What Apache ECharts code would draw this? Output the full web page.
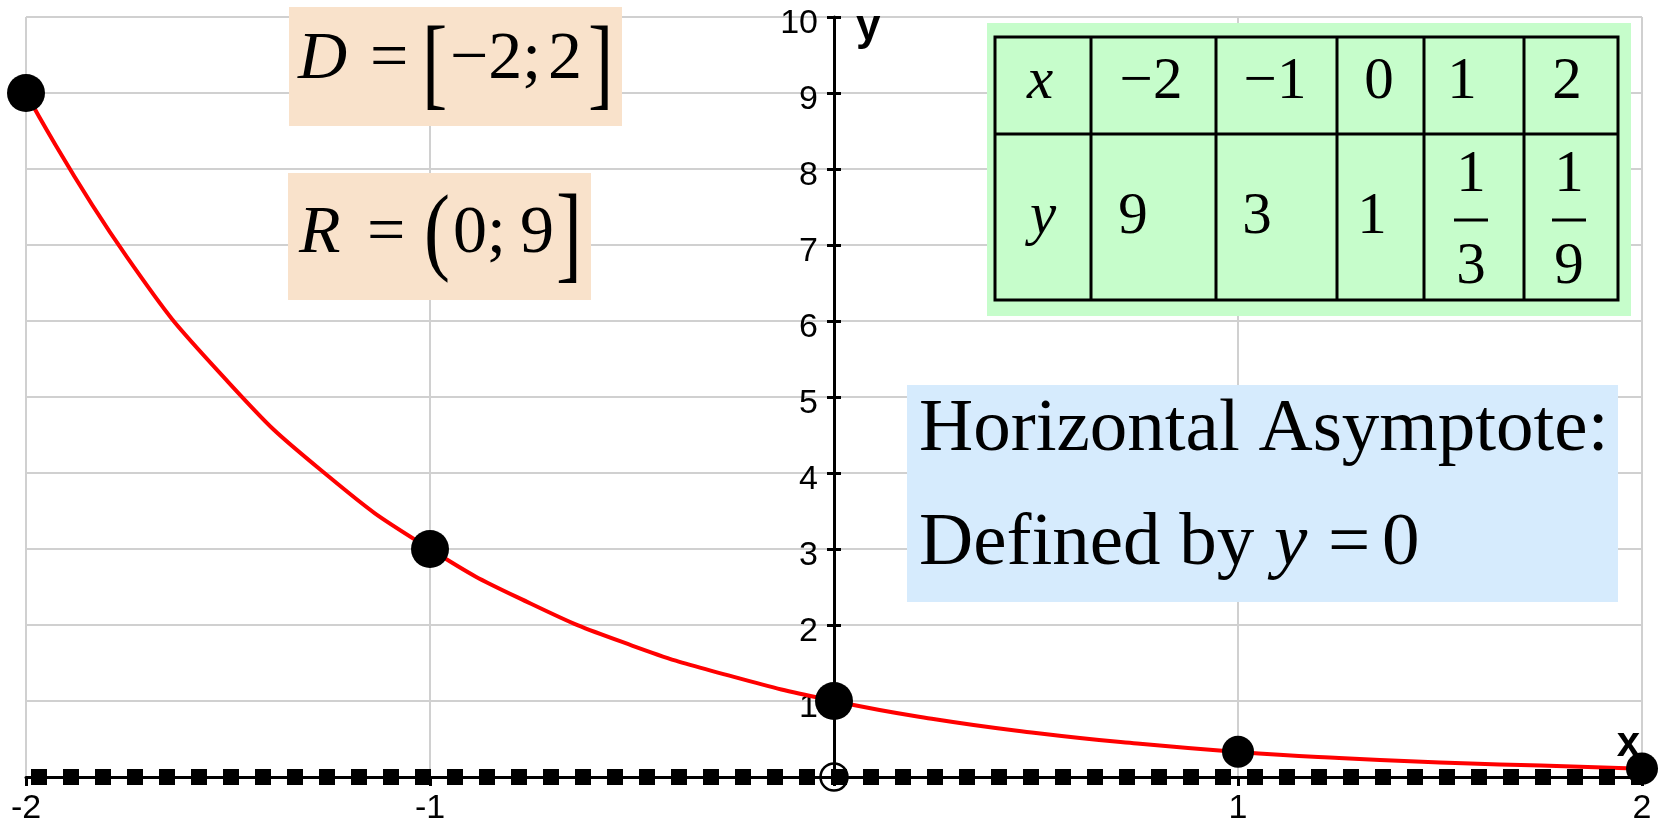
<!DOCTYPE html>
<html>
<head>
<meta charset="utf-8">
<title>y = (1/3)^x</title>
<script src="https://cdn.jsdelivr.net/npm/echarts@6/dist/echarts.min.js"></script>
<style>
  html, body { margin: 0; padding: 0; background: #fff; }
  #chart { width: 1664px; height: 825px; }
</style>
</head>
<body>
<div id="chart"></div>
<script>
// red curve, values
const curveX = [-2, -1.75, -1.5, -1.25, -1, -0.75, -0.5, -0.25, 0, 0.25, 0.5, 0.75, 1, 1.25, 1.5, 1.75, 2]
const curveY = [9, 6.84, 5.2, 3.95, 3, 2.28, 1.73, 1.32, 1, 0.76, 0.58, 0.44, 0.33, 0.25, 0.19, 0.15, 0.11]
// black dots
const pointX = [-2, -1, 0, 1, 2]
const pointY = [9, 3, 1, 0.333, 0.111]
// horizontal asymptote y = 0
const asymptoteX = [-2, 2]
const asymptoteY = [0, 0]
// value table
const tableX = ['−2', '−1', '0', '1', '2']
const tableY = ['9', '3', '1', '1/3', '1/9']
// boxes
const domainText = ['D', '=', '[', '−2;', '2', ']']
const rangeText = ['R', '=', '(', '0;', '9', ']']
const asymptoteLine1 = 'Horizontal Asymptote:'
const asymptoteLine2 = ['Defined by', 'y', '=', '0']

const SERIF = '"Liberation Serif", "Times New Roman", serif'
const SANS = '"Liberation Sans", Arial, sans-serif'

// text placed by its baseline
function serif(str, x, base, size, italic, align) {
  return {
    type: 'text', z: 102, silent: true,
    x: x, y: base - 0.3375 * size,
    style: {
      text: str,
      font: (italic ? 'italic ' : '') + size + 'px ' + SERIF,
      fill: '#000',
      textAlign: align || 'left', align: align || 'left',
      textVerticalAlign: 'middle', verticalAlign: 'middle'
    }
  }
}
// tall bracket: measure the glyph, then stretch it to the ink box seen in the picture
const measureCtx = document.createElement('canvas').getContext('2d')
function bracket(str, inkLeft, inkTop, inkBottom, size) {
  measureCtx.font = size + 'px ' + SERIF
  measureCtx.textBaseline = 'middle'
  measureCtx.textAlign = 'left'
  const m = measureCtx.measureText(str)
  const up = m.actualBoundingBoxAscent
  const down = m.actualBoundingBoxDescent
  const s = (inkBottom - inkTop) / (up + down)
  return {
    type: 'text', z: 102, silent: true,
    x: inkLeft + m.actualBoundingBoxLeft, y: inkTop + up * s, scaleY: s,
    style: {
      text: str,
      font: size + 'px ' + SERIF,
      fill: '#000',
      textAlign: 'left', align: 'left',
      textVerticalAlign: 'middle', verticalAlign: 'middle'
    }
  }
}
function box(x, y, w, h, color) {
  return { type: 'rect', z: 100, silent: true, shape: { x: x, y: y, width: w, height: h }, style: { fill: color } }
}
function rule(x1, y1, x2, y2, w) {
  return { type: 'line', z: 101, silent: true, shape: { x1: x1, y1: y1, x2: x2, y2: y2 }, style: { stroke: '#000', lineWidth: w } }
}

let graphics = []

// D = [-2; 2]
graphics.push(box(289, 7, 333, 119, '#f9e2cb'))
graphics.push(serif(domainText[0], 298, 83, 68, true))
graphics.push(serif(domainText[1], 370, 83, 68))
graphics.push(bracket(domainText[2], 427, 25, 109, 76))
graphics.push(serif(domainText[3], 450, 83, 68))
graphics.push(serif(domainText[4], 548, 83, 68))
graphics.push(bracket(domainText[5], 590, 25, 109, 76))

// R = (0; 9]
graphics.push(box(288, 173, 303, 127, '#f9e2cb'))
graphics.push(serif(rangeText[0], 299, 257, 68, true))
graphics.push(serif(rangeText[1], 367, 257, 68))
graphics.push(bracket(rangeText[2], 427, 193, 283, 78))
graphics.push(serif(rangeText[3], 453, 257, 68))
graphics.push(serif(rangeText[4], 520, 257, 68))
graphics.push(bracket(rangeText[5], 558, 193, 283, 78))

// table
graphics.push(box(987, 23, 644, 293, '#c6fdcb'))
graphics.push({
  type: 'rect', z: 101, silent: true,
  shape: { x: 995, y: 37, width: 623, height: 263 },
  style: { fill: 'none', stroke: '#000', lineWidth: 3 }
})
graphics.push(rule(995, 134, 1618, 134, 3))
const colLines = [1091, 1216, 1337, 1424, 1524]
colLines.forEach(cx => graphics.push(rule(cx, 37, cx, 300, 3)))
const headCenters = [1151, 1275, 1379, 1462, 1567]
const rowCenters = [1133, 1257, 1372, 1471, 1569]
graphics.push(serif('x', 1040, 102, 59, true, 'center'))
graphics.push(serif('y', 1043, 237, 59, true, 'center'))
tableX.forEach((s, i) => graphics.push(serif(s, headCenters[i], 102, 59, false, 'center')))
tableY.forEach((s, i) => {
  let cx = rowCenters[i]
  if (s.indexOf('/') >= 0) {
    let parts = s.split('/')
    graphics.push(serif(parts[0], cx, 195, 59, false, 'center'))
    graphics.push(rule(cx - 17, 220, cx + 17, 220, 3))
    graphics.push(serif(parts[1], cx, 287, 59, false, 'center'))
  } else {
    graphics.push(serif(s, cx, 237, 59, false, 'center'))
  }
})

// asymptote note
graphics.push(box(907, 385, 711, 217, '#d6ebfd'))
graphics.push(serif(asymptoteLine1, 919, 456, 75))
graphics.push(serif(asymptoteLine2[0], 919, 570, 75))
graphics.push(serif(asymptoteLine2[1], 1274, 570, 75, true))
graphics.push(serif(asymptoteLine2[2], 1328, 570, 75))
graphics.push(serif(asymptoteLine2[3], 1382, 570, 75))

const hideZero = v => (v === 0 ? '' : String(v))
const tickStyle = { color: '#000', width: 3 }
const gridLine = { show: true, lineStyle: { color: '#d0d0d0', width: 2, type: 'solid' } }
// the y axis sits at x = 0, half way across the plot area
const yAxisShift = -808

const chart = echarts.init(document.getElementById('chart'))
const option = {
  animation: false,
  backgroundColor: '#fff',
  grid: { left: 26, right: 22, top: 17, bottom: 48, containLabel: false, outerBoundsMode: 'none' },
  xAxis: {
    type: 'value', min: -2, max: 2, interval: 1,
    name: 'x', nameLocation: 'end', nameGap: -2,
    nameTextStyle: { fontFamily: SANS, fontSize: 42, fontWeight: 'bold', color: '#000', align: 'right', verticalAlign: 'bottom', padding: [0, 0, 12, 0] },
    axisLine: { onZero: false, lineStyle: tickStyle },
    axisTick: { show: true, length: 9, lineStyle: tickStyle },
    axisLabel: { margin: 15, fontFamily: SANS, fontSize: 34, color: '#000', formatter: hideZero },
    splitLine: gridLine
  },
  yAxis: [{
    type: 'value', min: 0, max: 10, interval: 1, position: 'left', offset: yAxisShift,
    name: 'y', nameLocation: 'end', nameGap: -11,
    nameTextStyle: { fontFamily: SANS, fontSize: 44, fontWeight: 'bold', color: '#000', align: 'left', verticalAlign: 'middle', padding: [20, 0, 0, 22] },
    axisLine: { onZero: false, lineStyle: tickStyle },
    axisTick: { show: true, length: 7, lineStyle: tickStyle },
    axisLabel: {
      margin: 16, fontFamily: SANS, fontSize: 34, color: '#000',
      formatter: v => (v === 0 ? '' : '{n|' + v + '}'),
      // labels sit a little below their ticks
      rich: { n: { fontFamily: SANS, fontSize: 34, color: '#000', padding: [14, 0, 0, 0] } }
    },
    splitLine: gridLine
  }, {
    type: 'value', min: 0, max: 10, interval: 1, position: 'left', offset: yAxisShift,
    axisLine: { show: false, onZero: false },
    axisTick: { show: true, inside: true, length: 7, lineStyle: tickStyle },
    axisLabel: { show: false },
    splitLine: { show: false }
  }],
  series: [{
    type: 'line',
    data: curveX.map((x, i) => [x, curveY[i]]),
    smooth: true,
    symbol: 'none', silent: true,
    lineStyle: { color: '#ff0000', width: 4 },
    z: 2
  }, {
    type: 'line',
    data: asymptoteX.map((x, i) => [x, asymptoteY[i]]),
    symbol: 'none', silent: true, clip: false,
    lineStyle: { color: '#000', width: 16, type: [16, 16], dashOffset: 27, cap: 'butt' },
    z: 3
  }, {
    type: 'scatter',
    data: [[0, 0]],
    symbol: 'circle', symbolSize: 27, silent: true,
    itemStyle: { color: 'rgba(0,0,0,0)', borderColor: '#000', borderWidth: 2.5, opacity: 1 },
    z: 4
  }, {
    type: 'scatter',
    data: pointX.map((x, i) => [x, pointY[i]]),
    symbol: 'circle',
    symbolSize: (val, p) => (p.dataIndex < 3 ? 38 : 32),
    silent: true,
    itemStyle: { color: '#000', opacity: 1 },
    z: 5
  }],
  graphic: graphics
}
chart.setOption(option)
</script>
</body>
</html>
